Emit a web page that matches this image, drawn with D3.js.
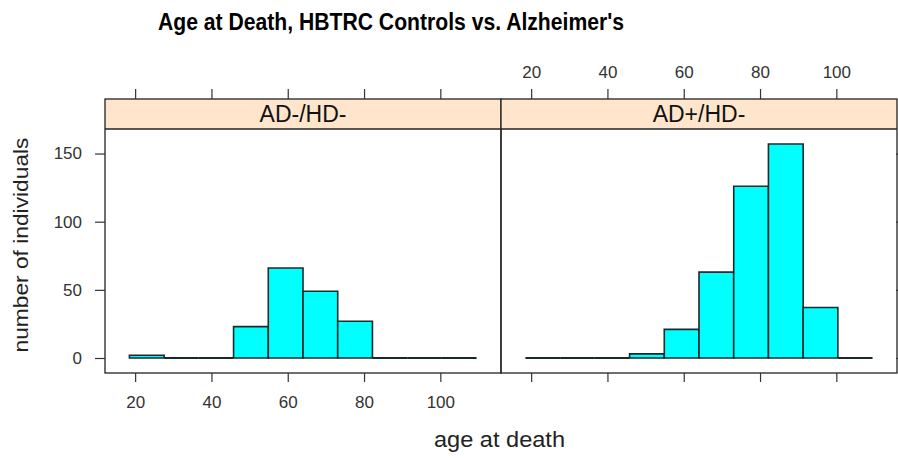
<!DOCTYPE html>
<html>
<head>
<meta charset="utf-8">
<script src="https://cdn.jsdelivr.net/npm/d3@7"></script>
<style>
  body { margin: 0; background: #fff; }
  svg { display: block; font-family: "Liberation Sans", Arial, sans-serif; }
  .tick line { stroke: #333; stroke-width: 1.2; }
  .tick text { fill: #333; font-size: 17px; }
</style>
</head>
<body>
<svg id="chart" width="898" height="458"></svg>
<script>
"use strict";

// histogram bin edges (age at death)
var breaks = [18.5, 27.6, 36.7, 45.8, 54.9, 64.0, 73.1, 82.2, 91.3, 100.4, 109.5];
var panelNames = ["AD-/HD-", "AD+/HD-"];
var countsControls = [2, 0, 0, 23, 66, 49, 27, 0, 0, 0];
var countsAlz = [0, 0, 0, 3, 21, 63, 126, 157, 37, 0];
var xTicks = [20, 40, 60, 80, 100];
var yTicks = [0, 50, 100, 150];

var svg = d3.select("#chart");

var boxTop = 99, stripH = 30, boxBottom = 373;
var panelLeft = [105, 501], panelW = 396;
var plotTop = boxTop + stripH;

var y = d3.scaleLinear().domain([-11, 168]).range([boxBottom, plotTop]);

var panels = [
  { name: panelNames[0], counts: countsControls },
  { name: panelNames[1], counts: countsAlz }
];

panels.forEach(function(p, i) {
  var x0 = panelLeft[i];
  var x = d3.scaleLinear().domain([12.1, 115.9]).range([x0, x0 + panelW]);
  var g = svg.append("g").attr("class", "panel");

  // strip
  g.append("rect")
    .attr("x", x0).attr("y", boxTop)
    .attr("width", panelW).attr("height", stripH)
    .attr("fill", "#ffe5cc");
  g.append("text")
    .attr("x", x0 + panelW / 2)
    .attr("y", boxTop + stripH / 2 + 8)
    .attr("text-anchor", "middle")
    .attr("font-size", 23)
    .attr("fill", "#111")
    .text(p.name);

  // bars (paths so that empty bins still show as a line)
  var bins = p.counts.map(function(c, k) {
    return { x0: breaks[k], x1: breaks[k + 1], n: c };
  });
  g.selectAll("path.bar")
    .data(bins)
    .enter()
    .append("path")
    .attr("class", "bar")
    .attr("d", function(d) {
      var path = d3.path();
      path.moveTo(x(d.x0), y(0));
      path.lineTo(x(d.x0), y(d.n));
      path.lineTo(x(d.x1), y(d.n));
      path.lineTo(x(d.x1), y(0));
      path.closePath();
      return path.toString();
    })
    .attr("fill", "#00ffff")
    .attr("stroke", "#1a2a2a")
    .attr("stroke-width", function(d) { return d.n === 0 ? 2 : 1.6; })
    .attr("stroke-linejoin", "miter");

  // frame
  g.append("rect")
    .attr("x", x0).attr("y", boxTop)
    .attr("width", panelW).attr("height", boxBottom - boxTop)
    .attr("fill", "none").attr("stroke", "#222").attr("stroke-width", 1.3);
  g.append("line")
    .attr("x1", x0).attr("x2", x0 + panelW)
    .attr("y1", plotTop).attr("y2", plotTop)
    .attr("stroke", "#222").attr("stroke-width", 1.3);

  // axes: labels bottom on first panel, top on second
  var bAxis = d3.axisBottom(x).tickValues(xTicks).tickSize(9).tickSizeOuter(0).tickPadding(14);
  var tAxis = d3.axisTop(x).tickValues(xTicks).tickSize(10).tickSizeOuter(0).tickPadding(11);
  if (i === 1) bAxis.tickFormat("");
  if (i === 0) tAxis.tickFormat("");
  svg.append("g").attr("transform", "translate(0," + boxBottom + ")").call(bAxis)
    .select(".domain").remove();
  svg.append("g").attr("transform", "translate(0," + boxTop + ")").call(tAxis)
    .select(".domain").remove();
});

var lAxis = d3.axisLeft(y).tickValues(yTicks).tickSize(10).tickSizeOuter(0).tickPadding(13);
svg.append("g").attr("transform", "translate(" + panelLeft[0] + ",0)").call(lAxis)
  .select(".domain").remove();
var rAxis = d3.axisRight(y).tickValues(yTicks).tickSize(10).tickSizeOuter(0).tickFormat("");
svg.append("g").attr("transform", "translate(" + (panelLeft[1] + panelW - 1) + ",0)").call(rAxis)
  .select(".domain").remove();

// titles
svg.append("text")
  .attr("x", 158).attr("y", 30)
  .attr("font-size", 23).attr("font-weight", "bold")
  .attr("textLength", 466).attr("lengthAdjust", "spacingAndGlyphs")
  .text("Age at Death, HBTRC Controls vs. Alzheimer's");

svg.append("text")
  .attr("x", 434).attr("y", 447)
  .attr("font-size", 22).attr("fill", "#222")
  .attr("textLength", 131).attr("lengthAdjust", "spacingAndGlyphs")
  .text("age at death");

svg.append("text")
  .attr("transform", "translate(28,245) rotate(-90)")
  .attr("text-anchor", "middle")
  .attr("font-size", 21).attr("fill", "#222")
  .attr("textLength", 215).attr("lengthAdjust", "spacingAndGlyphs")
  .text("number of individuals");
</script>
</body>
</html>
